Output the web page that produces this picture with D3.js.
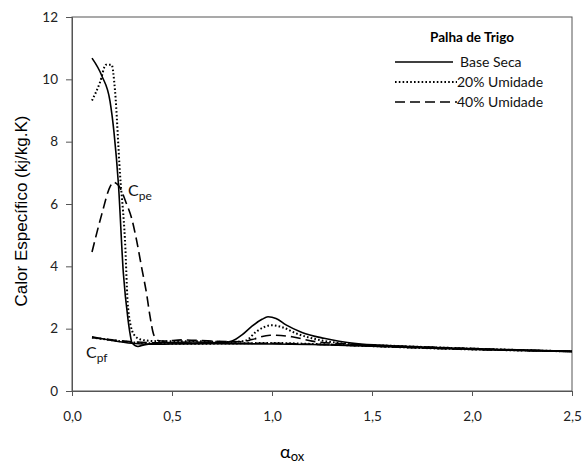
<!DOCTYPE html>
<html>
<head>
<meta charset="utf-8">
<script src="https://cdn.jsdelivr.net/npm/d3@7"></script>
<style>
  body { margin: 0; background: #fff; }
  svg { display: block; }
</style>
</head>
<body>
<svg id="chart"></svg>
<script>
const width = 584;
const height = 463;

// tick labels
const xTicks = [0, 0.5, 1.0, 1.5, 2.0, 2.5];
const yTicks = [0, 2, 4, 6, 8, 10, 12];

const seriesNames = ["Base Seca", "20% Umidade", "40% Umidade"];

// upper branch (Cpe), [alpha, cp]
const baseSecaCpe = [[0.10, 10.68], [0.15, 10.1], [0.19, 9.3], [0.21, 8.3], [0.232, 6.65], [0.257, 3.76],
  [0.28, 2.3], [0.29, 1.85], [0.30, 1.55], [0.33, 1.43], [0.36, 1.48], [0.45, 1.55], [0.6, 1.57],
  [0.75, 1.55], [0.8, 1.6], [0.85, 1.8], [0.9, 2.08], [0.95, 2.3], [0.98, 2.38], [1.02, 2.33],
  [1.07, 2.12], [1.15, 1.88], [1.26, 1.69], [1.42, 1.52], [1.6, 1.45], [2.0, 1.36], [2.5, 1.27]];
const umid20Cpe = [[0.10, 9.32], [0.14, 9.9], [0.17, 10.47], [0.198, 10.47], [0.215, 9.64], [0.24, 6.97],
  [0.265, 4.83], [0.28, 2.69], [0.307, 1.84], [0.34, 1.66], [0.37, 1.62], [0.42, 1.6], [0.6, 1.6],
  [0.8, 1.57], [0.87, 1.62], [0.92, 1.9], [1.0, 2.11], [1.05, 2.05], [1.12, 1.85], [1.25, 1.62],
  [1.4, 1.5], [1.6, 1.45], [2.0, 1.36], [2.5, 1.27]];
const umid40Cpe = [[0.10, 4.46], [0.15, 5.7], [0.19, 6.55], [0.207, 6.7], [0.232, 6.6], [0.273, 6.0],
  [0.3, 5.5], [0.323, 4.83], [0.35, 3.9], [0.373, 3.12], [0.39, 2.4], [0.407, 1.84], [0.43, 1.62],
  [0.46, 1.6], [0.55, 1.64], [0.7, 1.6], [0.85, 1.58], [0.9, 1.65], [0.99, 1.79], [1.1, 1.74],
  [1.2, 1.6], [1.4, 1.5], [1.6, 1.45], [2.0, 1.36], [2.5, 1.27]];

// lower branch (Cpf)
const baseSecaCpf = [[0.10, 1.74], [0.2, 1.62], [0.3, 1.53], [0.4, 1.5], [0.5, 1.51], [0.7, 1.52],
  [1.0, 1.51], [1.2, 1.49], [1.5, 1.44], [1.8, 1.37], [2.1, 1.32], [2.5, 1.27]];
const umid20Cpf = [[0.10, 1.72], [0.2, 1.63], [0.3, 1.56], [0.4, 1.53], [0.5, 1.52], [0.7, 1.52],
  [1.0, 1.54], [1.2, 1.51], [1.5, 1.44], [1.8, 1.37], [2.1, 1.32], [2.5, 1.27]];
const umid40Cpf = [[0.10, 1.71], [0.2, 1.64], [0.3, 1.58], [0.4, 1.55], [0.5, 1.54], [0.7, 1.53],
  [1.0, 1.53], [1.2, 1.5], [1.5, 1.44], [1.8, 1.37], [2.1, 1.32], [2.5, 1.27]];

const styles = [
  { dash: null, width: 1.6 },
  { dash: "1.6,2.2", width: 2 },
  { dash: "10,5", width: 1.6 }
];
const curves = [
  { s: 0, data: baseSecaCpe }, { s: 1, data: umid20Cpe }, { s: 2, data: umid40Cpe },
  { s: 0, data: baseSecaCpf }, { s: 1, data: umid20Cpf }, { s: 2, data: umid40Cpf }
];

const margin = { top: 17, right: 12, bottom: 72, left: 72 };
const plotW = width - margin.left - margin.right;
const plotH = height - margin.top - margin.bottom;

const svg = d3.select("#chart").attr("width", width).attr("height", height);
const font = "Lato, 'Open Sans', sans-serif";

const x = d3.scaleLinear().domain([0, 2.5]).range([0, plotW]);
const y = d3.scaleLinear().domain([0, 12]).range([plotH, 0]);

const g = svg.append("g").attr("transform", `translate(${margin.left},${margin.top})`);

// plot border
g.append("rect")
  .attr("width", plotW).attr("height", plotH)
  .attr("fill", "none").attr("stroke", "#555").attr("stroke-width", 1);

const yAxis = g.append("g")
  .call(d3.axisLeft(y).tickValues(yTicks).tickSize(6).tickPadding(8).tickFormat(d3.format("d")));
const xAxis = g.append("g").attr("transform", `translate(0,${plotH})`)
  .call(d3.axisBottom(x).tickValues(xTicks).tickSize(5).tickPadding(15)
    .tickFormat(d => d3.format(".1f")(d).replace(".", ",")));
[yAxis, xAxis].forEach(a => {
  a.select(".domain").attr("stroke", "#555");
  a.selectAll(".tick line").attr("stroke", "#555");
  a.selectAll("text").attr("font-family", font).attr("font-size", 13.5).attr("fill", "#222");
});

const line = d3.line()
  .x(d => x(d[0])).y(d => y(d[1]))
  .curve(d3.curveMonotoneX);

g.selectAll("path.series")
  .data(curves)
  .join("path")
  .attr("class", "series")
  .attr("d", d => line(d.data))
  .attr("fill", "none")
  .attr("stroke", "#000")
  .attr("stroke-width", d => styles[d.s].width)
  .attr("stroke-dasharray", d => styles[d.s].dash);

// annotations
const cpe = svg.append("text").attr("x", 128).attr("y", 196)
  .attr("font-family", font).attr("font-size", 16).attr("fill", "#111");
cpe.append("tspan").text("C");
cpe.append("tspan").attr("font-size", 12).attr("dy", 4).text("pe");
const cpf = svg.append("text").attr("x", 86).attr("y", 358)
  .attr("font-family", font).attr("font-size", 16).attr("fill", "#111");
cpf.append("tspan").text("C");
cpf.append("tspan").attr("font-size", 12).attr("dy", 4).text("pf");

// legend
const leg = svg.append("g").attr("transform", "translate(395,42)");
leg.append("text").attr("x", 77).attr("y", 0).attr("text-anchor", "middle")
  .attr("font-family", font).attr("font-size", 13.5).attr("font-weight", "bold")
  .text("Palha de Trigo");
seriesNames.forEach((name, i) => {
  const row = leg.append("g").attr("transform", `translate(0,${20 + i * 20})`);
  row.append("line").attr("x1", 0).attr("x2", i === 0 ? 58 : 62)
    .attr("stroke", "#000").attr("stroke-width", styles[i].width)
    .attr("stroke-dasharray", styles[i].dash);
  row.append("text").attr("x", i === 0 ? 65 : 62).attr("y", 5)
    .attr("font-family", font).attr("font-size", 14).attr("fill", "#111")
    .text(name);
});

// axis titles
svg.append("text")
  .attr("transform", `translate(27,211) rotate(-90)`)
  .attr("text-anchor", "middle")
  .attr("font-family", "'Liberation Sans', Arial, sans-serif").attr("font-size", 17)
  .text("Calor Específico (kj/kg.K)");
const xl = svg.append("text").attr("x", 280).attr("y", 458)
  .attr("font-family", font).attr("font-size", 18);
xl.append("tspan").text("α");
xl.append("tspan").attr("font-size", 13).attr("dy", 3).text("ox");
</script>
</body>
</html>
